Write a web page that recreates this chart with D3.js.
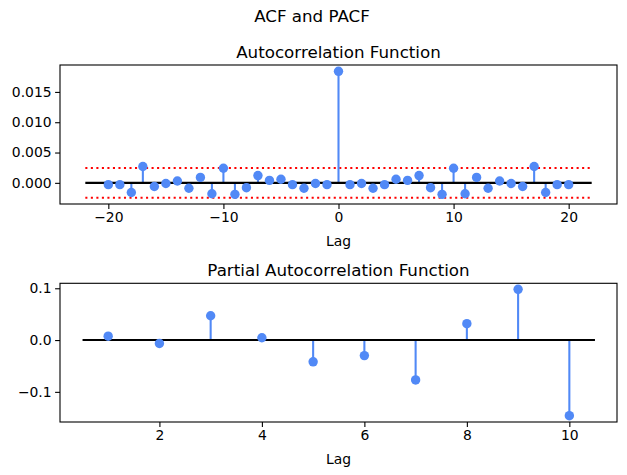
<!DOCTYPE html>
<html>
<head>
<meta charset="utf-8">
<script src="https://cdn.jsdelivr.net/npm/d3@7"></script>
<style>
  body { margin: 0; background: #fff; }
  svg { font-family: "DejaVu Sans", sans-serif; }
</style>
</head>
<body>
<div id="chart"></div>
<script>
// ACF values, lags -20..20 (symmetric)
var acfLags = d3.range(-20, 21);
var acfValues = [
  -0.0003, -0.0003, -0.0016, 0.0027, -0.0006, -0.0001, 0.0003, -0.0009, 0.0009, -0.0018,
  0.0024, -0.0019, -0.0008, 0.0012, 0.0004, 0.0006, -0.0003, -0.0009, -0.0001, -0.0003,
  0.0184,
  -0.0003, -0.0001, -0.0009, -0.0003, 0.0006, 0.0004, 0.0012, -0.0008, -0.0019, 0.0024,
  -0.0018, 0.0009, -0.0009, 0.0003, -0.0001, -0.0006, 0.0027, -0.0016, -0.0003, -0.0003
];
var confBound = 0.00245;
var acfTicksX = [-20, -10, 0, 10, 20];
var acfTicksY = [0, 0.005, 0.010, 0.015];

// PACF values, lags 1..10
var pacfLags = d3.range(1, 11);
var pacfValues = [0.0075, -0.0065, 0.047, 0.0045, -0.042, -0.030, -0.077, 0.0316, 0.098, -0.146];
var pacfTicksX = [2, 4, 6, 8, 10];
var pacfTicksY = [-0.1, 0, 0.1];

var W = 627, H = 475;
var stemColor = "#5189f6";

var svg = d3.select("#chart").append("svg")
    .attr("width", W)
    .attr("height", H);

// Figure title
svg.append("text")
    .attr("x", 312)
    .attr("y", 22)
    .attr("text-anchor", "middle")
    .attr("font-size", "16.7px")
    .text("ACF and PACF");

function drawPanel(opts) {
    var left = 60, right = 617;
    var x = d3.scaleLinear().domain(opts.xDomain).range([left, right]);
    var y = d3.scaleLinear().domain(opts.yDomain).range([opts.bottom, opts.top]);
    var g = svg.append("g");

    // axes
    g.append("g")
        .attr("transform", "translate(0," + opts.bottom + ")")
        .call(d3.axisBottom(x).tickValues(opts.ticksX).tickFormat(d3.format("d")).tickSize(4.9).tickPadding(3.5))
        .call(styleAxis);
    g.append("g")
        .attr("transform", "translate(" + left + ",0)")
        .call(d3.axisLeft(y).tickValues(opts.ticksY).tickFormat(d3.format(opts.yFormat)).tickSize(4.9).tickPadding(3.5))
        .call(styleAxis);

    // frame
    g.append("rect")
        .attr("x", left)
        .attr("y", opts.top)
        .attr("width", right - left)
        .attr("height", opts.bottom - opts.top)
        .attr("fill", "none")
        .attr("stroke", "#000")
        .attr("stroke-width", 1.1);

    // confidence lines
    if (opts.conf) {
        [opts.conf, -opts.conf].forEach(function(c) {
            g.append("line")
                .attr("x1", x(opts.lineRange[0]))
                .attr("x2", x(opts.lineRange[1]))
                .attr("y1", y(c))
                .attr("y2", y(c))
                .attr("stroke", "red")
                .attr("stroke-width", 2.08)
                .attr("stroke-dasharray", "2.08,3.44");
        });
    }

    // stems
    g.selectAll(".stem")
        .data(opts.values)
        .enter()
        .append("line")
        .attr("x1", function(d, i) { return x(opts.lags[i]); })
        .attr("x2", function(d, i) { return x(opts.lags[i]); })
        .attr("y1", y(0))
        .attr("y2", function(d) { return y(d); })
        .attr("stroke", stemColor)
        .attr("stroke-width", 2.08);

    // zero line
    g.append("line")
        .attr("x1", x(opts.lineRange[0]))
        .attr("x2", x(opts.lineRange[1]))
        .attr("y1", y(0))
        .attr("y2", y(0))
        .attr("stroke", "#000")
        .attr("stroke-width", 2.08);

    // markers
    g.selectAll(".dot")
        .data(opts.values)
        .enter()
        .append("circle")
        .attr("cx", function(d, i) { return x(opts.lags[i]); })
        .attr("cy", function(d) { return y(d); })
        .attr("r", 4.7)
        .attr("fill", stemColor);

    // titles
    g.append("text")
        .attr("x", (left + right) / 2)
        .attr("y", opts.top - 7)
        .attr("text-anchor", "middle")
        .attr("font-size", "16.7px")
        .text(opts.title);
    g.append("text")
        .attr("x", (left + right) / 2)
        .attr("y", opts.bottom + 42)
        .attr("text-anchor", "middle")
        .attr("font-size", "13.9px")
        .text("Lag");
}

function styleAxis(sel) {
    sel.select(".domain").remove();
    sel.selectAll(".tick line").attr("stroke", "#000").attr("stroke-width", 1.1);
    sel.selectAll(".tick text")
        .attr("fill", "#000")
        .attr("font-size", "13.9px")
        .attr("font-family", "DejaVu Sans, sans-serif");
}

drawPanel({
    top: 65, bottom: 204,
    xDomain: [-24.2, 24.2],
    yDomain: [-0.00349, 0.01944],
    lineRange: [-22, 22],
    lags: acfLags,
    values: acfValues,
    conf: confBound,
    ticksX: acfTicksX,
    ticksY: acfTicksY,
    yFormat: ".3f",
    title: "Autocorrelation Function"
});

drawPanel({
    top: 283.3, bottom: 422,
    xDomain: [0.06, 10.93],
    yDomain: [-0.1582, 0.1096],
    lineRange: [0.5, 10.5],
    lags: pacfLags,
    values: pacfValues,
    conf: null,
    ticksX: pacfTicksX,
    ticksY: pacfTicksY,
    yFormat: ".1f",
    title: "Partial Autocorrelation Function"
});
</script>
</body>
</html>
